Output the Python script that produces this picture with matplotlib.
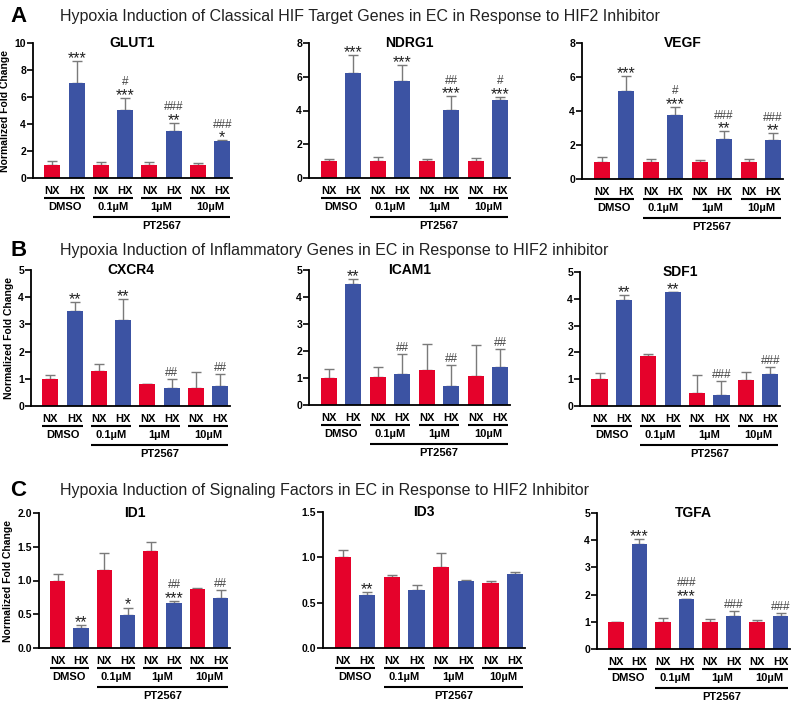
import numpy as np
import matplotlib
matplotlib.use("Agg")
import matplotlib.pyplot as plt
from matplotlib.transforms import offset_copy

plt.rcParams['font.family'] = ['Liberation Sans', 'DejaVu Sans']

# ---- data (mean, upper error) ----
groups = ["DMSO", "0.1µM", "1µM", "10µM"]

glut1_nx = [1.0, 1.0, 1.0, 1.0]
glut1_nx_err = [0.25, 0.2, 0.18, 0.1]
glut1_hx = [7.05, 5.05, 3.45, 2.75]
glut1_hx_err = [1.6, 0.9, 0.65, 0.05]
glut1_sig = ["***", "***", "**", "*"]
glut1_hash = ["", "#", "###", "###"]

ndrg1_nx = [1.0, 1.0, 1.0, 1.0]
ndrg1_nx_err = [0.12, 0.22, 0.13, 0.2]
ndrg1_hx = [6.2, 5.75, 4.05, 4.6]
ndrg1_hx_err = [1.1, 0.95, 0.8, 0.22]
ndrg1_sig = ["***", "***", "***", "***"]
ndrg1_hash = ["", "", "##", "#"]

vegf_nx = [1.0, 1.0, 1.0, 1.0]
vegf_nx_err = [0.3, 0.2, 0.13, 0.2]
vegf_hx = [5.15, 3.75, 2.35, 2.3]
vegf_hx_err = [0.9, 0.5, 0.45, 0.38]
vegf_sig = ["***", "***", "**", "**"]
vegf_hash = ["", "#", "###", "###"]

cxcr4_nx = [1.0, 1.27, 0.8, 0.66]
cxcr4_nx_err = [0.15, 0.28, 0.02, 0.58]
cxcr4_hx = [3.5, 3.18, 0.65, 0.72]
cxcr4_hx_err = [0.32, 0.75, 0.35, 0.45]
cxcr4_sig = ["**", "**", "", ""]
cxcr4_hash = ["", "", "##", "##"]

icam1_nx = [1.0, 1.05, 1.3, 1.07]
icam1_nx_err = [0.33, 0.35, 0.95, 1.15]
icam1_hx = [4.47, 1.15, 0.7, 1.4]
icam1_hx_err = [0.18, 0.75, 0.8, 0.68]
icam1_sig = ["**", "", "", ""]
icam1_hash = ["", "##", "##", "##"]

sdf1_nx = [1.0, 1.85, 0.47, 0.98]
sdf1_nx_err = [0.25, 0.1, 0.68, 0.3]
sdf1_hx = [3.95, 4.25, 0.4, 1.18]
sdf1_hx_err = [0.18, 0.02, 0.55, 0.27]
sdf1_sig = ["**", "**", "", ""]
sdf1_hash = ["", "", "###", "###"]

id1_nx = [1.0, 1.15, 1.43, 0.88]
id1_nx_err = [0.1, 0.26, 0.14, 0.01]
id1_hx = [0.29, 0.49, 0.67, 0.74]
id1_hx_err = [0.05, 0.11, 0.03, 0.12]
id1_sig = ["**", "*", "***", ""]
id1_hash = ["", "", "##", "##"]

id3_nx = [1.0, 0.78, 0.89, 0.72]
id3_nx_err = [0.08, 0.02, 0.16, 0.02]
id3_hx = [0.58, 0.64, 0.74, 0.82]
id3_hx_err = [0.04, 0.05, 0.015, 0.02]
id3_sig = ["**", "", "", ""]
id3_hash = ["", "", "", ""]

tgfa_nx = [1.0, 1.0, 1.0, 1.0]
tgfa_nx_err = [0.01, 0.15, 0.12, 0.06]
tgfa_hx = [3.85, 1.82, 1.23, 1.22]
tgfa_hx_err = [0.2, 0.02, 0.18, 0.1]
tgfa_sig = ["***", "***", "", ""]
tgfa_hash = ["", "###", "###", "###"]

RED = "#e5022b"
BLUE = "#3c53a3"
W, H = 800, 705

fig = plt.figure(figsize=(8, 7.05), dpi=100)


def add_ax(x0, ytop, x1, yzero):
    return fig.add_axes([x0 / W, 1 - yzero / H, (x1 - x0) / W, (yzero - ytop) / H])


def panel(ax, name, nx, nx_err, hx, hx_err, sig, hsh, ymax, step, fmt, ylabel):
    nx_pos = np.arange(4) * 2
    hx_pos = nx_pos + 1
    ax.bar(nx_pos, nx, width=0.66, color=RED, zorder=2)
    ax.bar(hx_pos, hx, width=0.66, color=BLUE, zorder=2)
    ax.errorbar(nx_pos, nx, yerr=[np.zeros(4), nx_err], fmt="none", ecolor="#7a7a7a",
                elinewidth=1, capsize=3.5, capthick=1, zorder=1)
    ax.errorbar(hx_pos, hx, yerr=[np.zeros(4), hx_err], fmt="none", ecolor="#7a7a7a",
                elinewidth=1, capsize=3.5, capthick=1, zorder=1)
    for i in range(4):
        top = hx[i] + hx_err[i]
        off = 2
        if sig[i]:
            ax.annotate(sig[i], (hx_pos[i], top), textcoords="offset points", xytext=(0, -1.5),
                        ha="center", va="baseline", fontsize=11.5, color="#222222")
            off = 9
        if hsh[i]:
            ax.annotate(hsh[i], (hx_pos[i], top), textcoords="offset points", xytext=(0, off),
                        ha="center", va="baseline", fontsize=8.5, color="#444444")
    ax.set_xlim(-0.8, 7.4)
    ax.set_ylim(0, ymax)
    ticks = np.arange(0, ymax + step / 2, step)
    ax.set_yticks(ticks)
    ax.set_yticklabels([fmt.format(t) for t in ticks], fontsize=7.5, fontweight="bold")
    ax.set_xticks([])
    for s in ["top", "right"]:
        ax.spines[s].set_visible(False)
    for s in ["left", "bottom"]:
        ax.spines[s].set_linewidth(1.3)
    ax.tick_params(axis="y", length=4, width=1.2, pad=1)
    ax.text(0.5, 1.0, name, transform=ax.transAxes, ha="center", va="center",
            fontsize=10, fontweight="bold")
    if ylabel:
        ax.set_ylabel("Normalized Fold Change", fontsize=7.5, fontweight="bold", labelpad=3)

    base = ax.get_xaxis_transform()

    def tr(dy):
        return offset_copy(base, fig=fig, x=0, y=-dy, units="dots")

    for i in range(4):
        ax.text(nx_pos[i], 0, "NX", transform=tr(13), ha="center", va="center",
                fontsize=8, fontweight="bold")
        ax.text(hx_pos[i], 0, "HX", transform=tr(13), ha="center", va="center",
                fontsize=8, fontweight="bold")
        ax.plot([nx_pos[i] - 0.33, hx_pos[i] + 0.33], [0, 0], transform=tr(20),
                color="black", lw=1.5, clip_on=False, solid_capstyle="butt")
        ax.text(nx_pos[i] + 0.5, 0, groups[i], transform=tr(29), ha="center", va="center",
                fontsize=8, fontweight="bold")
    ax.plot([nx_pos[1] - 0.33, hx_pos[3] + 0.33], [0, 0], transform=tr(39),
            color="black", lw=1.5, clip_on=False, solid_capstyle="butt")
    ax.text((nx_pos[1] + hx_pos[3]) / 2, 0, "PT2567", transform=tr(48), ha="center",
            va="center", fontsize=8, fontweight="bold")


# row A
ax = add_ax(33, 43, 232, 178)
panel(ax, "GLUT1", glut1_nx, glut1_nx_err, glut1_hx, glut1_hx_err, glut1_sig, glut1_hash,
      10, 2, "{:.0f}", True)
ax = add_ax(309, 43, 510, 178)
panel(ax, "NDRG1", ndrg1_nx, ndrg1_nx_err, ndrg1_hx, ndrg1_hx_err, ndrg1_sig, ndrg1_hash,
      8, 2, "{:.0f}", False)
ax = add_ax(582, 43, 783, 179)
panel(ax, "VEGF", vegf_nx, vegf_nx_err, vegf_hx, vegf_hx_err, vegf_sig, vegf_hash,
      8, 2, "{:.0f}", False)

# row B
ax = add_ax(31, 270, 230, 406)
panel(ax, "CXCR4", cxcr4_nx, cxcr4_nx_err, cxcr4_hx, cxcr4_hx_err, cxcr4_sig, cxcr4_hash,
      5, 1, "{:.0f}", True)
ax = add_ax(309, 270, 510, 405)
panel(ax, "ICAM1", icam1_nx, icam1_nx_err, icam1_hx, icam1_hx_err, icam1_sig, icam1_hash,
      5, 1, "{:.0f}", False)
ax = add_ax(580, 272, 780, 406)
panel(ax, "SDF1", sdf1_nx, sdf1_nx_err, sdf1_hx, sdf1_hx_err, sdf1_sig, sdf1_hash,
      5, 1, "{:.0f}", False)

# row C
ax = add_ax(39, 513, 230, 648)
panel(ax, "ID1", id1_nx, id1_nx_err, id1_hx, id1_hx_err, id1_sig, id1_hash,
      2.0, 0.5, "{:.1f}", True)
ax = add_ax(323, 512, 525, 648)
panel(ax, "ID3", id3_nx, id3_nx_err, id3_hx, id3_hx_err, id3_sig, id3_hash,
      1.5, 0.5, "{:.1f}", False)
ax = add_ax(597, 513, 790, 649)
panel(ax, "TGFA", tgfa_nx, tgfa_nx_err, tgfa_hx, tgfa_hx_err, tgfa_sig, tgfa_hash,
      5, 1, "{:.0f}", False)

# section letters and titles
sections = [
    ("A", 17, "Hypoxia Induction of Classical HIF Target Genes in EC in Response to HIF2 Inhibitor"),
    ("B", 250, "Hypoxia Induction of Inflammatory Genes in EC in Response to HIF2 inhibitor"),
    ("C", 490, "Hypoxia Induction of Signaling Factors in EC in Response to HIF2 Inhibitor"),
]
for letter, ypix, title in sections:
    fig.text(10 / W, 1 - ypix / H, letter, fontsize=16, fontweight="bold", va="center", ha="left")
    fig.text(60 / W, 1 - ypix / H, title, fontsize=11.5, va="center", ha="left", color="#222222")

fig.savefig("out.png", dpi=100)
